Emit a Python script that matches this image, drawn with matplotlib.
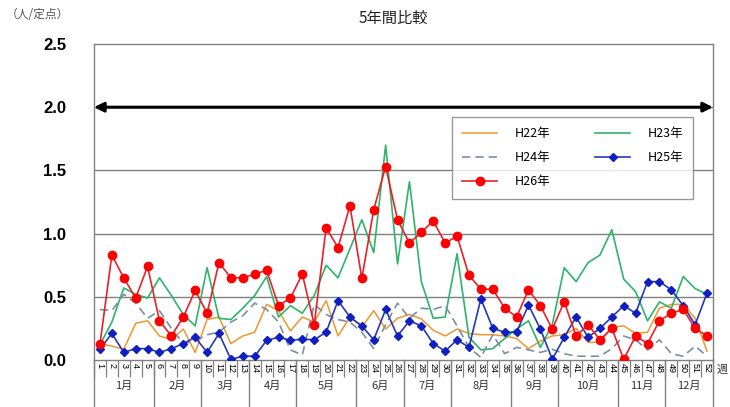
import matplotlib
matplotlib.use("Agg")
import matplotlib.pyplot as plt
from matplotlib.lines import Line2D
import matplotlib.transforms as mtransforms

plt.rcParams['font.family'] = ['Noto Sans CJK JP', 'DejaVu Sans']

weeks = list(range(1, 53))
week_labels = [str(w) for w in weeks]
months = ['1月', '2月', '3月', '4月', '5月', '6月', '7月', '8月', '9月', '10月', '11月', '12月']
weeks_per_month = [5, 4, 4, 4, 5, 4, 4, 5, 4, 5, 4, 4]

h22 = [0.13, 0.11, 0.085, 0.29, 0.31, 0.19, 0.16, 0.245, 0.06, 0.32, 0.34, 0.13, 0.19,
       0.22, 0.44, 0.39, 0.23, 0.34, 0.30, 0.47, 0.19, 0.34, 0.26, 0.39, 0.245, 0.33,
       0.36, 0.325, 0.235, 0.19, 0.245, 0.21, 0.20, 0.20, 0.19, 0.17, 0.09, 0.15, 0.19,
       0.20, 0.25, 0.14, 0.14, 0.26, 0.27, 0.21, 0.22, 0.41, 0.44, 0.44, 0.33, 0.07]
h23 = [0.12, 0.30, 0.57, 0.52, 0.49, 0.65, 0.51, 0.36, 0.27, 0.73, 0.33, 0.32, 0.41,
       0.51, 0.66, 0.34, 0.43, 0.37, 0.51, 0.75, 0.65, 0.88, 1.11, 0.85, 1.70, 0.76,
       1.41, 0.62, 0.33, 0.34, 0.84, 0.18, 0.08, 0.09, 0.17, 0.245, 0.31, 0.10, 0.28,
       0.73, 0.62, 0.77, 0.83, 1.03, 0.64, 0.54, 0.31, 0.46, 0.41, 0.66, 0.565, 0.52]
h24 = [0.40, 0.39, 0.52, 0.45, 0.33, 0.39, 0.25, 0.13, 0.15, 0.20, 0.22, 0.30, 0.35,
       0.45, 0.40, 0.30, 0.08, 0.04, 0.44, 0.36, 0.32, 0.30, 0.22, 0.09, 0.28, 0.45,
       0.33, 0.41, 0.40, 0.43, 0.27, 0.10, 0.02, 0.20, 0.05, 0.10, 0.08, 0.06, 0.085,
       0.05, 0.03, 0.03, 0.03, 0.09, 0.19, 0.16, 0.08, 0.16, 0.05, 0.03, 0.11, 0.03]
h25 = [0.085, 0.21, 0.06, 0.09, 0.09, 0.06, 0.09, 0.13, 0.18, 0.06, 0.21, 0.005, 0.03,
       0.03, 0.155, 0.18, 0.155, 0.165, 0.16, 0.22, 0.47, 0.34, 0.27, 0.16, 0.40, 0.19,
       0.31, 0.27, 0.13, 0.07, 0.16, 0.10, 0.485, 0.25, 0.22, 0.22, 0.435, 0.245, 0.005,
       0.18, 0.34, 0.18, 0.25, 0.34, 0.43, 0.37, 0.62, 0.62, 0.555, 0.43, 0.28, 0.53]
h26 = [0.125, 0.83, 0.65, 0.49, 0.74, 0.31, 0.19, 0.34, 0.55, 0.37, 0.77, 0.65, 0.65,
       0.68, 0.71, 0.43, 0.49, 0.68, 0.28, 1.045, 0.89, 1.22, 0.645, 1.19, 1.53, 1.11,
       0.925, 1.01, 1.10, 0.925, 0.98, 0.67, 0.56, 0.56, 0.41, 0.34, 0.555, 0.43, 0.245,
       0.46, 0.19, 0.28, 0.16, 0.25, 0.005, 0.19, 0.13, 0.31, 0.37, 0.40, 0.25, 0.19]
y_ticks = [0.0, 0.5, 1.0, 1.5, 2.0, 2.5]
threshold = 2.0

W, H = 730, 407
fig = plt.figure(figsize=(W / 100, H / 100), dpi=100)
L, R, T, B = 94, 713, 44, 360
ax = fig.add_axes([L / W, 1 - B / H, (R - L) / W, (B - T) / H])

grid_c = '#808080'
ax.set_xlim(0.5, 52.5)
ax.set_ylim(0, 2.5)
for s in ax.spines.values():
    s.set_color(grid_c)
    s.set_linewidth(1.0)
for yv in y_ticks[1:-1]:
    ax.axhline(yv, color=grid_c, lw=1.0, zorder=1)

ax.plot(weeks, h22, color='#F0962E', lw=1.1, zorder=3)
ax.plot(weeks, h23, color='#2EB36B', lw=1.2, zorder=3)
ax.plot(weeks, h24, color='#7C8DA6', lw=1.2, dashes=(5, 3), zorder=3)
ax.plot(weeks, h25, color='#2638B8', lw=1.2, marker='D', ms=4, mfc='#1020C0', mec='#1020C0', zorder=4)
ax.plot(weeks, h26, color='#E8202A', lw=1.2, marker='o', ms=6, mfc='#FF0000', mec='#FF0000', zorder=5)

# threshold arrow line
ax.annotate('', xy=(0.0, threshold), xytext=(1.0, threshold),
            xycoords=('axes fraction', 'data'), textcoords=('axes fraction', 'data'),
            arrowprops=dict(arrowstyle='<|-|>', color='black', lw=2.2,
                            mutation_scale=14, shrinkA=0, shrinkB=0), zorder=6)

ax.set_yticks(y_ticks)
ax.set_yticklabels([f'{v:.1f}' for v in y_ticks], fontsize=12, fontweight='bold',
                   family=['Liberation Sans', 'DejaVu Sans'])
ax.tick_params(axis='y', length=0, pad=20)

ax.set_xticks(weeks)
ax.set_xticklabels(week_labels, rotation=270, fontsize=6.5,
                   family=['Liberation Sans', 'DejaVu Sans'])
ax.tick_params(axis='x', length=0, pad=2)
ax.set_xticks([w + 0.5 for w in [0] + weeks], minor=True)
ax.tick_params(axis='x', which='minor', length=17 * 72 / 100, color=grid_c, width=0.9)

trans = mtransforms.blended_transform_factory(ax.transData, ax.transAxes)
axh = B - T
pos = 0.5
for m, n in zip(months, weeks_per_month):
    ax.plot([pos, pos], [0, -(H - B) / axh], transform=trans, color=grid_c, lw=1.0, clip_on=False)
    ax.text(pos + n / 2, -(386 - B) / axh, m, transform=trans, ha='center', va='center',
            fontsize=8, color='#333333')
    pos += n
ax.plot([pos, pos], [0, -(H - B) / axh], transform=trans, color=grid_c, lw=1.0, clip_on=False)

fig.text(393 / W, 1 - 18 / H, '5年間比較', ha='center', va='center', fontsize=11, color='#222222')
fig.text(6 / W, 1 - 15 / H, '（人/定点）', ha='left', va='center', fontsize=8.5, color='#555555')
fig.text(717 / W, 1 - 370 / H, '週', ha='left', va='center', fontsize=8, color='#333333')

handles = [
    Line2D([], [], color='#F0962E', lw=1.1),
    Line2D([], [], color='#7C8DA6', lw=1.2, dashes=(5, 3)),
    Line2D([], [], color='#E8202A', lw=1.2, marker='o', ms=6, mfc='#FF0000', mec='#FF0000'),
    Line2D([], [], color='#2EB36B', lw=1.2),
    Line2D([], [], color='#2638B8', lw=1.2, marker='D', ms=4, mfc='#1020C0', mec='#1020C0'),
]
labels = ['H22年', 'H24年', 'H26年', 'H23年', 'H25年']
leg = ax.legend(handles, labels, ncol=2, loc='upper left',
                bbox_to_anchor=((452 - L) / (R - L), 1 - (117 - T) / axh),
                fontsize=9, frameon=True, fancybox=False, edgecolor=grid_c,
                handlelength=2.8, columnspacing=3.6, labelspacing=0.9,
                borderpad=0.8, handletextpad=1.4, borderaxespad=0)
leg.get_frame().set_linewidth(1.0)
leg.set_zorder(7)

fig.savefig('out.png', dpi=100)
